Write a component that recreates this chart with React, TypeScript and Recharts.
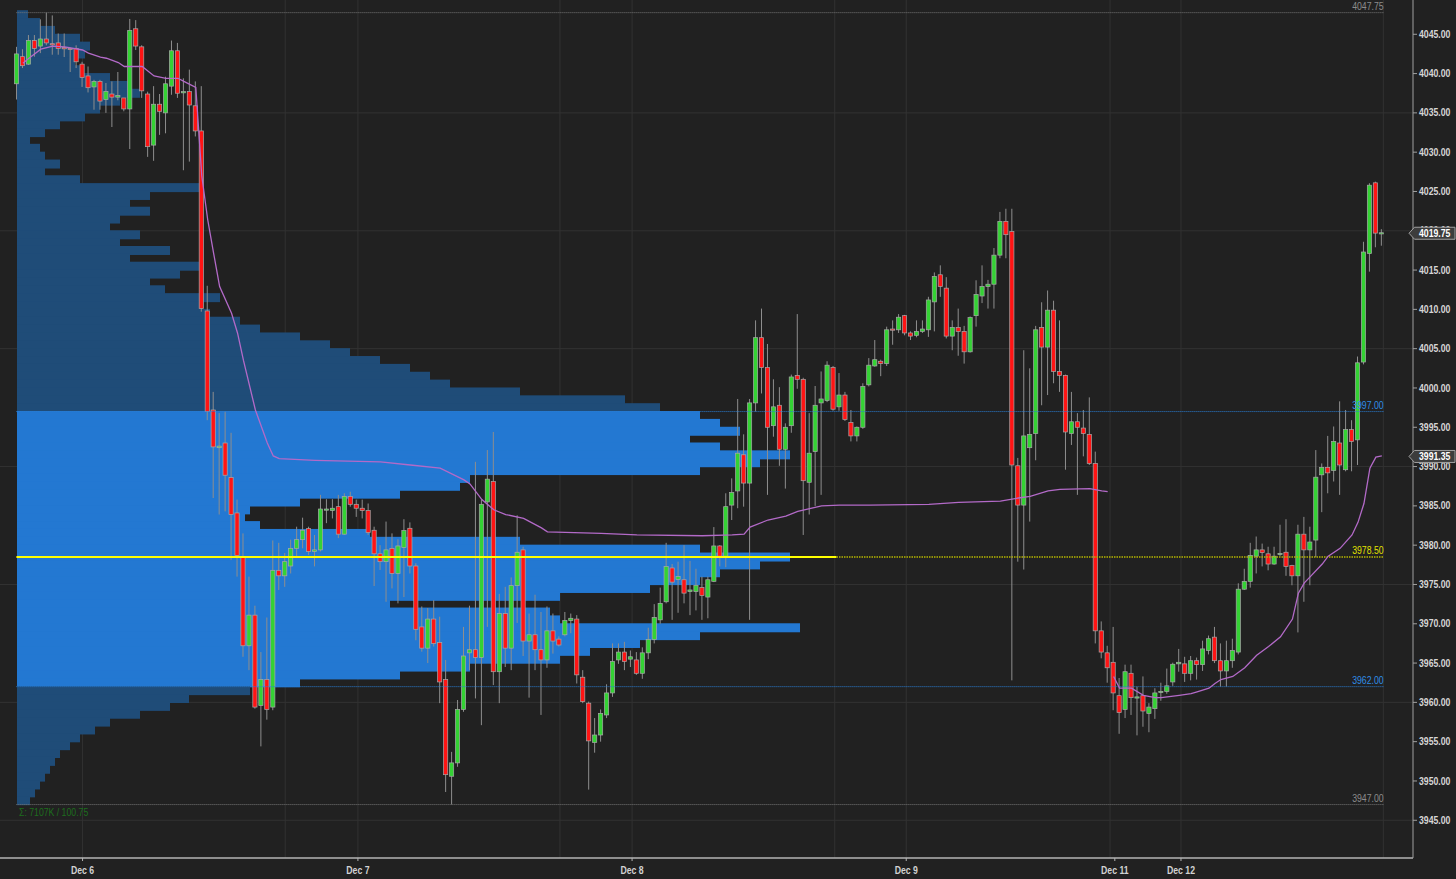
import React from "react";
import { ComposedChart, Bar, Line, XAxis, YAxis, ReferenceLine, Cell } from "recharts";

const W = 1456;
const H = 879;
const FONT = '"Liberation Sans", Arial, sans-serif';
const NARROW = 0.87;

// 30-minute bars: [open, high, low, close]
const candles: [number, number, number, number][] = [
  [4038.7, 4043.4, 4036.7, 4042.5], [4042.15, 4043.1, 4040.7, 4041.0], [4041.2, 4044.9, 4041.1, 4044.2], [4044.2, 4044.9, 4042.15, 4043.2],
  [4043.5, 4046.9, 4042.6, 4044.4], [4044.4, 4047.75, 4043.6, 4043.9], [4043.8, 4047.4, 4042.4, 4043.7], [4043.9, 4045.1, 4042.4, 4043.2],
  [4043.3, 4045.1, 4042.1, 4043.2], [4043.2, 4043.3, 4040.2, 4043.1], [4043.2, 4043.6, 4040.7, 4041.5], [4041.2, 4041.5, 4038.3, 4039.5],
  [4039.7, 4040.9, 4037.6, 4038.2], [4038.3, 4039.2, 4035.4, 4039.0], [4039.0, 4039.2, 4035.4, 4036.5], [4036.7, 4038.8, 4035.0, 4037.7],
  [4037.4, 4039.0, 4033.2, 4037.0], [4037.0, 4040.2, 4036.6, 4037.2], [4036.9, 4036.9, 4035.2, 4035.5], [4035.5, 4046.95, 4030.4, 4045.5],
  [4045.7, 4046.8, 4043.0, 4043.5], [4043.4, 4043.6, 4036.9, 4037.8], [4037.4, 4037.7, 4029.4, 4030.7], [4030.9, 4038.4, 4028.9, 4036.1],
  [4036.1, 4037.4, 4032.2, 4035.2], [4035.0, 4039.6, 4032.4, 4038.7], [4038.4, 4044.2, 4037.3, 4042.9], [4042.9, 4043.9, 4036.9, 4037.5],
  [4037.6, 4039.4, 4027.7, 4037.7], [4037.7, 4040.5, 4028.8, 4036.0], [4035.9, 4039.0, 4032.0, 4032.7], [4032.7, 4038.4, 4009.7, 4010.1],
  [4009.8, 4013.0, 3995.9, 3997.0], [3997.2, 3999.5, 3986.0, 3992.5], [3992.4, 3996.8, 3983.9, 3992.6], [3993.0, 3997.0, 3984.3, 3988.9],
  [3988.6, 3994.3, 3978.1, 3983.9], [3984.1, 3985.8, 3976.0, 3978.7], [3978.5, 3981.5, 3965.8, 3967.2], [3967.2, 3976.0, 3964.1, 3971.1],
  [3971.1, 3972.3, 3959.2, 3959.4], [3959.6, 3966.4, 3954.4, 3962.9], [3962.9, 3970.8, 3957.8, 3959.1], [3959.4, 3980.6, 3959.0, 3976.8],
  [3976.8, 3980.3, 3974.3, 3976.1], [3976.1, 3979.0, 3974.7, 3977.9], [3977.35, 3980.7, 3976.4, 3979.6], [3979.6, 3982.35, 3978.5, 3980.7],
  [3980.7, 3983.5, 3979.6, 3981.9], [3982.1, 3982.35, 3978.75, 3979.2], [3979.2, 3981.3, 3977.3, 3979.4], [3979.4, 3986.4, 3979.2, 3984.6],
  [3984.5, 3985.85, 3982.8, 3984.6], [3984.4, 3985.85, 3983.4, 3984.7], [3984.9, 3986.4, 3980.9, 3981.4], [3981.4, 3986.6, 3981.3, 3986.2],
  [3986.2, 3986.8, 3984.9, 3985.2], [3985.2, 3985.8, 3983.6, 3984.7], [3984.7, 3985.8, 3983.4, 3984.4], [3984.4, 3985.3, 3981.3, 3981.6],
  [3981.9, 3982.35, 3974.8, 3978.9], [3978.9, 3980.0, 3976.85, 3977.9], [3977.9, 3983.0, 3972.8, 3979.4], [3979.6, 3981.5, 3974.5, 3976.4],
  [3976.4, 3980.75, 3972.6, 3979.9], [3979.7, 3983.3, 3973.4, 3981.85], [3982.15, 3982.9, 3976.4, 3977.35], [3977.35, 3977.7, 3967.9, 3969.3],
  [3969.6, 3972.2, 3966.45, 3966.9], [3966.9, 3972.0, 3965.0, 3970.6], [3970.6, 3973.0, 3967.1, 3967.5], [3967.6, 3970.9, 3959.9, 3962.6],
  [3962.9, 3965.4, 3948.6, 3950.8], [3950.6, 3953.7, 3947.0, 3952.3], [3952.3, 3960.3, 3951.8, 3959.1], [3959.1, 3969.6, 3958.8, 3965.9],
  [3966.3, 3972.3, 3964.1, 3966.7], [3966.7, 3990.6, 3960.5, 3965.7], [3965.7, 3985.8, 3957.1, 3985.2], [3985.5, 3992.1, 3969.6, 3988.4],
  [3988.1, 3994.4, 3962.2, 3963.9], [3963.9, 3973.8, 3959.9, 3971.3], [3971.3, 3974.7, 3964.5, 3966.9], [3966.9, 3975.9, 3964.1, 3974.85],
  [3974.85, 3983.8, 3970.1, 3979.1], [3979.4, 3979.8, 3965.9, 3967.8], [3967.8, 3971.3, 3960.6, 3968.6], [3968.6, 3973.7, 3964.1, 3966.7],
  [3966.7, 3971.5, 3958.4, 3965.4], [3965.4, 3972.2, 3964.4, 3969.1], [3969.1, 3971.3, 3966.2, 3967.8], [3968.05, 3968.4, 3967.1, 3967.3],
  [3968.6, 3971.5, 3968.4, 3970.4], [3970.4, 3971.3, 3968.8, 3970.7], [3970.6, 3971.1, 3962.4, 3963.5], [3963.2, 3964.1, 3959.9, 3960.1],
  [3959.9, 3960.1, 3948.9, 3955.1], [3954.9, 3958.0, 3953.6, 3955.85], [3955.85, 3959.1, 3955.0, 3958.6], [3958.4, 3962.3, 3958.0, 3961.2],
  [3961.2, 3967.5, 3960.7, 3965.2], [3965.4, 3967.5, 3964.9, 3966.4], [3966.4, 3967.7, 3964.1, 3965.2], [3965.5, 3966.6, 3964.5, 3965.8],
  [3965.4, 3966.4, 3963.5, 3963.7], [3963.7, 3967.0, 3963.0, 3966.3], [3966.3, 3969.5, 3965.5, 3968.0], [3968.0, 3972.5, 3967.5, 3970.8],
  [3970.5, 3974.6, 3970.0, 3972.6], [3972.8, 3980.3, 3972.6, 3977.3], [3977.1, 3977.6, 3970.5, 3975.3], [3975.65, 3977.9, 3971.4, 3976.0],
  [3975.6, 3980.0, 3972.6, 3973.9], [3974.1, 3978.0, 3971.1, 3974.3], [3974.1, 3977.0, 3971.7, 3974.9], [3974.6, 3976.0, 3970.5, 3973.6],
  [3973.4, 3976.0, 3970.7, 3975.6], [3975.4, 3982.3, 3975.3, 3979.9], [3979.9, 3980.0, 3977.3, 3978.6], [3978.6, 3986.6, 3977.2, 3984.9],
  [3985.1, 3988.5, 3983.2, 3986.7], [3986.9, 3998.6, 3984.7, 3991.7], [3991.5, 3994.1, 3984.9, 3987.9], [3987.9, 3998.6, 3970.5, 3998.1],
  [3998.1, 4008.6, 3997.0, 4006.4], [4006.4, 4010.1, 3999.3, 4002.6], [4002.6, 4005.6, 3986.4, 3995.0], [3995.2, 4001.1, 3993.8, 3997.6],
  [3997.8, 4000.1, 3990.1, 3992.2], [3992.2, 3995.5, 3987.2, 3995.0], [3995.2, 4001.7, 3994.3, 4001.4], [4001.6, 4009.4, 3999.9, 4001.1],
  [4001.1, 4001.3, 3981.3, 3988.2], [3988.0, 3996.8, 3983.9, 3991.7], [3991.9, 4000.25, 3985.0, 3997.8], [3998.1, 4002.1, 3986.4, 3998.6],
  [3998.4, 4003.4, 3998.2, 4002.9], [4002.6, 4002.8, 3997.1, 3997.3], [3997.6, 4001.9, 3997.1, 3999.1], [3999.1, 3999.5, 3995.8, 3996.0],
  [3995.6, 3997.2, 3993.2, 3993.9], [3993.9, 3995.1, 3993.2, 3995.0], [3995.0, 4000.6, 3994.8, 4000.2], [4000.4, 4003.8, 4000.2, 4002.9],
  [4002.8, 4006.1, 4002.7, 4003.6], [4003.4, 4003.6, 4001.5, 4003.1], [4003.1, 4007.8, 4002.8, 4007.4], [4007.5, 4008.6, 4005.5, 4007.35],
  [4007.4, 4009.4, 4007.0, 4009.0], [4009.2, 4009.3, 4006.7, 4007.0], [4007.0, 4007.2, 4006.1, 4006.6], [4006.7, 4008.6, 4006.45, 4007.2],
  [4007.2, 4008.6, 4007.0, 4007.5], [4007.4, 4011.6, 4006.5, 4011.2], [4010.95, 4014.7, 4007.2, 4014.2], [4014.4, 4015.6, 4011.6, 4012.9],
  [4012.7, 4014.1, 4006.3, 4006.6], [4006.6, 4008.6, 4004.8, 4007.7], [4007.7, 4010.1, 4004.1, 4007.2], [4007.2, 4007.9, 4003.1, 4004.6],
  [4004.6, 4009.1, 4004.5, 4008.95], [4009.2, 4013.7, 4007.8, 4011.9], [4011.7, 4015.6, 4010.8, 4012.9], [4012.9, 4013.75, 4010.1, 4013.2],
  [4013.2, 4017.8, 4010.1, 4016.9], [4016.9, 4022.4, 4016.5, 4021.2], [4021.2, 4022.8, 4016.5, 4019.5], [4019.9, 4022.8, 3962.8, 3990.2],
  [3990.1, 3991.1, 3977.9, 3985.1], [3985.1, 4004.8, 3976.9, 3993.9], [3992.4, 4002.5, 3983.0, 3994.1], [3994.2, 4007.9, 3990.8, 4007.4],
  [4007.7, 4010.9, 3997.8, 4005.2], [4005.2, 4012.4, 3999.1, 4009.9], [4009.9, 4011.1, 4000.6, 4002.1], [4002.1, 4008.6, 3999.5, 4001.6],
  [4001.6, 4001.7, 3989.6, 3994.4], [3994.2, 3999.5, 3992.75, 3995.7], [3995.7, 3996.8, 3986.4, 3995.0], [3994.9, 3997.2, 3991.3, 3994.2],
  [3994.1, 3998.8, 3990.2, 3990.4], [3990.4, 3991.9, 3967.5, 3969.1], [3969.1, 3970.3, 3965.6, 3966.4], [3966.3, 3967.2, 3962.5, 3964.4],
  [3965.1, 3969.6, 3959.0, 3961.2], [3960.85, 3963.1, 3956.0, 3958.7], [3959.1, 3964.8, 3958.0, 3963.9], [3963.7, 3964.8, 3958.4, 3960.6],
  [3960.6, 3962.0, 3955.8, 3960.7], [3960.85, 3963.3, 3956.9, 3958.9], [3958.6, 3959.9, 3956.2, 3959.4], [3959.2, 3961.8, 3957.9, 3961.2],
  [3961.3, 3962.5, 3960.2, 3961.4], [3961.4, 3964.3, 3961.1, 3962.1], [3962.6, 3965.05, 3962.1, 3964.85], [3964.9, 3966.8, 3963.9, 3965.1],
  [3964.9, 3965.8, 3962.6, 3963.7], [3963.7, 3965.9, 3962.8, 3965.3], [3965.3, 3965.7, 3962.9, 3964.8], [3964.8, 3967.85, 3964.0, 3966.8],
  [3966.6, 3968.5, 3966.1, 3968.1], [3968.3, 3969.6, 3965.0, 3965.3], [3965.3, 3967.5, 3962.0, 3964.0], [3964.0, 3967.85, 3962.0, 3965.3],
  [3965.3, 3968.1, 3964.4, 3966.6], [3966.4, 3975.15, 3966.1, 3974.4], [3974.4, 3977.0, 3974.3, 3975.4], [3975.4, 3980.3, 3974.6, 3978.7],
  [3978.6, 3981.1, 3976.4, 3979.4], [3979.4, 3980.2, 3977.3, 3979.05], [3978.9, 3979.8, 3976.8, 3977.6], [3977.6, 3979.8, 3977.5, 3978.6],
  [3978.9, 3982.6, 3978.6, 3978.95], [3979.1, 3983.3, 3976.1, 3977.3], [3977.4, 3977.5, 3974.9, 3976.1], [3976.1, 3982.6, 3968.9, 3981.4],
  [3981.4, 3983.6, 3972.8, 3979.4], [3979.4, 3982.35, 3974.9, 3980.4], [3980.65, 3992.1, 3978.5, 3988.65], [3988.95, 3990.4, 3984.2, 3989.9],
  [3989.9, 3993.9, 3986.6, 3989.2], [3989.5, 3995.1, 3988.1, 3993.2], [3993.0, 3998.3, 3986.4, 3990.2], [3989.6, 3997.2, 3989.4, 3994.7],
  [3994.7, 3995.9, 3989.4, 3993.2], [3993.4, 4004.0, 3990.2, 4003.2], [4003.3, 4018.6, 4003.0, 4017.3], [4017.1, 4026.05, 4014.8, 4025.8],
  [4026.1, 4026.25, 4017.9, 4019.7], [4019.6, 4020.2, 4018.1, 4019.75],
];

// VWAP readings: [bar index, value]
const vwapWeek: [number, number][] = [
  [1, 4041.3], [2, 4041.95], [4, 4043.1], [6, 4043.5], [8, 4043.4], [11, 4043.0], [12, 4042.6], [14, 4042.1], [15, 4041.95],
  [17, 4041.4], [18, 4040.9], [21, 4040.9], [23, 4039.7], [25, 4039.4], [27, 4039.4], [28, 4039.0], [30, 4038.25], [31, 4027.0],
  [32, 4021.4], [33, 4017.1], [34, 4012.9], [36, 4009.5], [37, 4007.0], [38, 4003.5], [40, 3997.2], [42, 3993.0], [43, 3991.35],
  [44, 3991.0], [50, 3990.8], [61, 3990.6], [66, 3990.2], [71, 3989.8], [75, 3988.3], [76, 3987.8], [78, 3985.8], [80, 3984.5],
  [82, 3983.9], [85, 3983.4], [88, 3982.2], [89, 3981.7], [98, 3981.5], [104, 3981.3], [115, 3981.2], [120, 3981.3], [122, 3981.4],
  [123, 3982.3], [126, 3983.2], [129, 3983.7], [131, 3984.3], [135, 3985.0], [138, 3985.1], [143, 3985.1], [153, 3985.2], [158, 3985.45],
  [165, 3985.6], [168, 3986.0], [170, 3986.2], [173, 3986.9], [175, 3987.1], [180, 3987.2], [182, 3986.9], [183, 3986.8],
];
const vwapNewWeek: [number, number][] = [
  [184, 3963.3], [185, 3961.8], [187, 3961.8], [189, 3960.9], [191, 3960.6], [192, 3960.6], [195, 3960.9], [197, 3961.1], [198, 3961.35],
  [200, 3961.8], [201, 3962.4], [202, 3962.9], [204, 3963.3], [206, 3964.4], [208, 3966.0], [210, 3967.1], [212, 3968.35], [214, 3970.6],
  [215, 3973.9], [216, 3975.2], [217, 3976.0], [219, 3977.6], [220, 3978.6], [222, 3979.6], [224, 3981.3], [225, 3982.9], [226, 3985.3],
  [227, 3989.8], [228, 3991.2], [229, 3991.35],
];

// Volume profile, 1-point rows from 4047 down to 3947 (thousand contracts)
const profileTop = 4047;
const profileVolK = [
  2.75, 5.75, 9.5, 15.75, 18.25, 17, 14.5, 15.75, 23.25, 28.25, // 4047-4038
  30.75, 25.75, 20.75, 17, 10.75, 7, 3.25, 5.75, 7, 10.75, // 4037-4028
  7, 15.75, 45.75, 33.25, 28.25, 33.25, 25.75, 23.25, 30.75, 25.75, // 4027-4018
  38.25, 28.25, 45.75, 40.75, 33.25, 37, 50.75, 45.75, 48.25, 55.75, // 4017-4008
  60.75, 70.75, 78.25, 83.25, 90.75, 98.25, 103.25, 108.25, 125.75, 152, // 4007-3998
  160.75, 170.75, 175.75, 180.75, 168.25, 175.75, 193.25, 185.75, 170.75, 113.25, // 3997-3988
  110.75, 95.75, 70.75, 58.25, 57, 60.75, 88.25, 125.75, 170.75, 193.25, // 3987-3978
  185.75, 175.75, 170.75, 158.25, 135.75, 93.25, 133.25, 135.75, 195.75, 170.75, // 3977-3968
  155.75, 143.25, 135.75, 113.25, 95.75, 70.75, 58.25, 43, 38.25, 30.75, // 3967-3958
  23.25, 19.5, 15.75, 13.25, 10.75, 9.5, 8.25, 7, 5.75, 4.5, // 3957-3948
  3.25, // 3947
];

const valueAreaHigh = 3997;
const valueAreaLow = 3962;
const pocPrice = 3978.5;
const sessionHigh = 4047.75;
const sessionLow = 3947;
const lastPrice = 4019.75;
const vwapLast = 3991.35;
const profileSummary = "Σ: 7107K / 100.75";

const dateTicks = [11, 57.2, 103.2, 149.2, 184.2, 195.3];
const dateLabels = ["Dec 6", "Dec 7", "Dec 8", "Dec 9", "Dec 11", "Dec 12"];
const verticalGrid = [11, 45, 57.2, 91.1, 103.2, 137.2, 149.2, 183.4, 195.3, 229.25];
const priceTicks = [3945, 3950, 3955, 3960, 3965, 3970, 3975, 3980, 3985, 3990, 3995, 4000, 4005, 4010, 4015, 4020, 4025, 4030, 4035, 4040, 4045];
const gridPrices = [3945, 3960, 3975, 3990, 4005, 4020, 4035];

const X_DOMAIN: [number, number] = [-2.852, 234.23];
const Y_DOMAIN: [number, number] = [3940.2, 4049.36];
const VOL_DOMAIN: [number, number] = [-4.25, 349];
const LINE_START = -0.1;
const LINE_END = 229.3;
const POC_SOLID_END = 137.5;

const VA_COLOR = "#2378d2";
const OUT_COLOR = "#1f4c78";

const vw1 = new Map(vwapWeek.map(([i, v]) => [i, v]));
const vw2 = new Map(vwapNewWeek.map(([i, v]) => [i, v]));
const data = candles.map(([o, h, l, c], i) => ({
  i,
  open: o,
  high: h,
  low: l,
  close: c,
  range: [l, h],
  vwap1: vw1.has(i) ? vw1.get(i) : null,
  vwap2: vw2.has(i) ? vw2.get(i) : null,
}));

const profileRows = profileVolK.map((v, k) => {
  const lo = profileTop - k;
  return { price: lo + 0.5, vol: v, inVA: lo >= valueAreaLow && lo < valueAreaHigh };
});

const CandleShape = (props: any) => {
  const { x, y, width, height, payload } = props;
  if (x == null || y == null) return null;
  const { open, high, low, close } = payload;
  const cx = x + width / 2;
  const ppu = high > low ? height / (high - low) : 0;
  const yO = y + (high - open) * ppu;
  const yC = y + (high - close) * ppu;
  const top = Math.min(yO, yC);
  const bh = Math.max(Math.abs(yC - yO), 1.2);
  const up = close >= open;
  return (
    <g>
      <line x1={cx} x2={cx} y1={y} y2={y + height} stroke="#8e8e8e" strokeWidth={1} />
      <rect x={cx - 2.1} y={top} width={4.2} height={bh} fill={up ? "#34d234" : "#ff1414"} stroke="#a9a9a9" strokeWidth={0.7} />
    </g>
  );
};

const ProfileRow = (props: any) => {
  const { x, y, width, height, fill } = props;
  if (x == null || y == null || !(width > 0)) return null;
  // extend each row slightly so adjacent rows meet without seams
  return <rect x={x} y={y - 0.5} width={width} height={height + 1} fill={fill} />;
};

const NText = (p: { x: number; y: number; anchor?: string; fill: string; bold?: boolean; children: React.ReactNode }) => (
  <text
    transform={`translate(${p.x},${p.y}) scale(${NARROW},1)`}
    textAnchor={p.anchor || "start"}
    fill={p.fill}
    fontSize={10}
    fontWeight={p.bold ? "bold" : "normal"}
    fontFamily={FONT}
  >
    {p.children}
  </text>
);

const YTick = (props: any) => {
  const { x, y, payload } = props;
  return <NText x={x} y={y + 3.6} fill="#d6d6d6" bold>{Number(payload.value).toFixed(2)}</NText>;
};

const XTick = (props: any) => {
  const { x, y, payload } = props;
  const idx = dateTicks.indexOf(payload.value);
  return <NText x={x} y={y + 10} anchor="middle" fill="#d2d2d2" bold>{dateLabels[idx] ?? ""}</NText>;
};

const lineLabel = (text: string, color: string) => (props: any) => {
  const vb = props.viewBox || {};
  return <NText x={vb.x + vb.width} y={vb.y - 2.5} anchor="end" fill={color}>{text}</NText>;
};

const priceTag = (text: string) => (props: any) => {
  const vb = props.viewBox || {};
  const y = vb.y;
  const x0 = vb.x + vb.width;
  return (
    <g>
      <path
        d={`M${x0 - 4},${y + 0.5} L${x0 + 1.5},${y - 5.5} L${W - 1},${y - 5.5} L${W - 1},${y + 6.5} L${x0 + 1.5},${y + 6.5} Z`}
        fill="#3c3c3c"
        stroke="#a0a0a0"
        strokeWidth={1}
      />
      <NText x={x0 + 6} y={y + 4.3} fill="#ffffff" bold>{text}</NText>
    </g>
  );
};

const layer: React.CSSProperties = { position: "absolute", left: 0, top: 0 };

export default function App() {
  return (
    <div style={{ width: W, height: H, background: "#212121", position: "relative", overflow: "hidden" }}>
      <style>{`body{margin:0;background:#212121;}`}</style>

      {/* layer 1: axes and grid */}
      <div style={layer}>
        <ComposedChart width={W} height={H} data={data} margin={{ top: 0, right: 0, bottom: 0, left: 0 }}>
          <XAxis
            dataKey="i"
            type="number"
            domain={X_DOMAIN}
            allowDataOverflow
            ticks={dateTicks}
            interval={0}
            height={21}
            tickSize={3}
            tickMargin={3}
            axisLine={{ stroke: "#b4b4b4", strokeWidth: 1.5 }}
            tickLine={{ stroke: "#b4b4b4" }}
            tick={<XTick />}
          />
          <YAxis
            orientation="right"
            type="number"
            domain={Y_DOMAIN}
            allowDataOverflow
            ticks={priceTicks}
            interval={0}
            width={43}
            tickSize={4}
            tickMargin={2}
            axisLine={{ stroke: "#a0a0a0" }}
            tickLine={{ stroke: "#a0a0a0" }}
            tick={<YTick />}
          />
          {gridPrices.map((p) => (
            <ReferenceLine key={"gh" + p} y={p} stroke="#323232" strokeWidth={1} />
          ))}
          {verticalGrid.map((t) => (
            <ReferenceLine key={"gv" + t} x={t} stroke="#323232" strokeWidth={1} />
          ))}
        </ComposedChart>
      </div>

      {/* layer 2: volume profile */}
      <div style={layer}>
        <ComposedChart
          layout="vertical"
          width={W}
          height={H}
          data={profileRows}
          margin={{ top: 0, right: 0, bottom: 0, left: 0 }}
          barCategoryGap={0}
          barGap={0}
        >
          <XAxis type="number" domain={VOL_DOMAIN} allowDataOverflow height={21} tick={false} tickLine={false} axisLine={false} />
          <YAxis
            type="number"
            dataKey="price"
            orientation="right"
            domain={Y_DOMAIN}
            allowDataOverflow
            reversed
            width={43}
            tick={false}
            tickLine={false}
            axisLine={false}
          />
          <Bar dataKey="vol" shape={ProfileRow} isAnimationActive={false}>
            {profileRows.map((r, k) => (
              <Cell key={"c" + k} fill={r.inVA ? VA_COLOR : OUT_COLOR} />
            ))}
          </Bar>
        </ComposedChart>
      </div>

      {/* layer 3: levels, candles and VWAP */}
      <div style={layer}>
        <ComposedChart width={W} height={H} data={data} margin={{ top: 0, right: 0, bottom: 0, left: 0 }}>
          <XAxis dataKey="i" type="number" domain={X_DOMAIN} allowDataOverflow height={21} tick={false} tickLine={false} axisLine={false} />
          <YAxis orientation="right" type="number" domain={Y_DOMAIN} allowDataOverflow width={43} tick={false} tickLine={false} axisLine={false} />

          <ReferenceLine
            segment={[{ x: LINE_START, y: sessionHigh }, { x: LINE_END, y: sessionHigh }]}
            stroke="#777"
            strokeDasharray="1 1"
            label={lineLabel("4047.75", "#8c8c8c")}
          />
          <ReferenceLine
            segment={[{ x: LINE_START, y: sessionLow }, { x: LINE_END, y: sessionLow }]}
            stroke="#777"
            strokeDasharray="1 1"
            label={lineLabel("3947.00", "#8c8c8c")}
          />
          <ReferenceLine
            segment={[{ x: LINE_START, y: valueAreaHigh }, { x: LINE_END, y: valueAreaHigh }]}
            stroke="#2a7fd6"
            strokeDasharray="1 1"
            label={lineLabel("3997.00", "#2f8de6")}
          />
          <ReferenceLine
            segment={[{ x: LINE_START, y: valueAreaLow }, { x: LINE_END, y: valueAreaLow }]}
            stroke="#2a7fd6"
            strokeDasharray="1 1"
            label={lineLabel("3962.00", "#2f8de6")}
          />
          <ReferenceLine segment={[{ x: LINE_START, y: pocPrice }, { x: POC_SOLID_END, y: pocPrice }]} stroke="#ffff00" strokeWidth={2} />
          <ReferenceLine
            segment={[{ x: POC_SOLID_END, y: pocPrice }, { x: LINE_END, y: pocPrice }]}
            stroke="#b5b500"
            strokeWidth={1.5}
            strokeDasharray="1.5 1"
            label={lineLabel("3978.50", "#e0e000")}
          />

          <Bar dataKey="range" shape={CandleShape} barSize={5} isAnimationActive={false} />
          <Line dataKey="vwap1" type="linear" stroke="#b36ac8" strokeWidth={1.3} dot={false} activeDot={false} connectNulls isAnimationActive={false} />
          <Line dataKey="vwap2" type="linear" stroke="#b36ac8" strokeWidth={1.3} dot={false} activeDot={false} connectNulls isAnimationActive={false} />

          <ReferenceLine y={lastPrice} stroke="none" label={priceTag("4019.75")} />
          <ReferenceLine y={vwapLast} stroke="none" label={priceTag("3991.35")} />
        </ComposedChart>
      </div>

      <div
        style={{
          position: "absolute",
          left: 19,
          top: 806,
          color: "#1d6e1d",
          fontSize: 10,
          fontFamily: FONT,
          lineHeight: "13px",
          whiteSpace: "nowrap",
          transform: `scaleX(${NARROW})`,
          transformOrigin: "0 0",
        }}
      >
        {profileSummary}
      </div>
    </div>
  );
}
